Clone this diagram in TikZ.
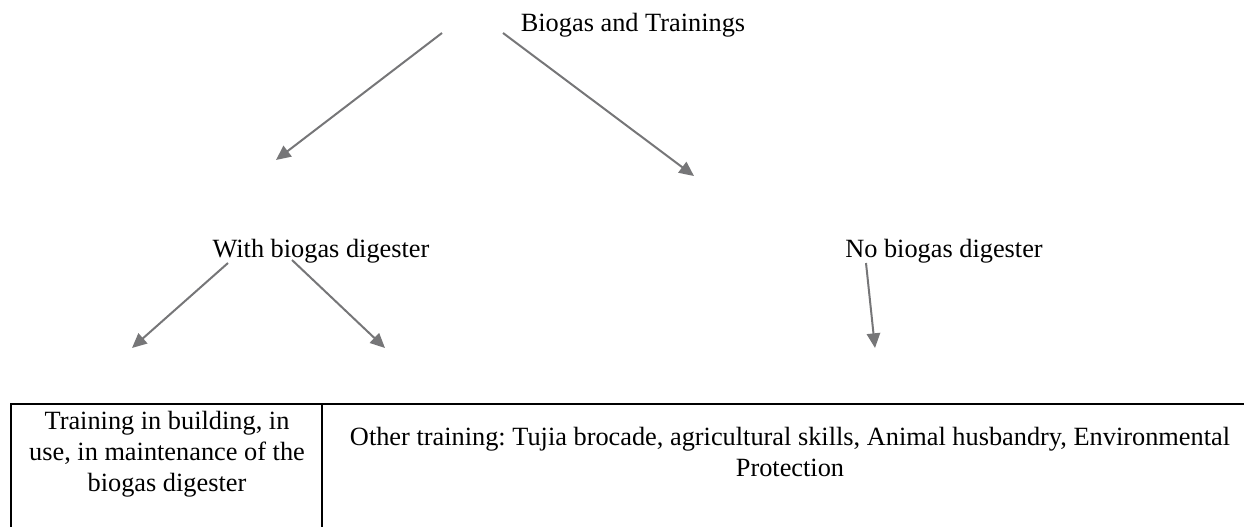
\documentclass[tikz,border=0pt]{standalone}
\usepackage{fontspec}
\setmainfont{Liberation Serif}
\usetikzlibrary{arrows.meta}
\definecolor{arrowgray}{RGB}{118,118,120}
\frenchspacing
\begin{document}
\begin{tikzpicture}[x=0.75pt,y=-0.75pt,
    txt/.style={font=\fontsize{19.75}{23.25}\selectfont, inner sep=0pt, anchor=base, align=center},
    arr/.style={draw=arrowgray, line width=1.5pt, -{Triangle[length=11pt,width=10pt]}},
    rule/.style={line width=1.1pt}]
  \useasboundingbox (0,0) rectangle (1244,527);
  \node [txt] (T) at (633,32) {Biogas and Trainings};
  \node [txt] (W) at (321,257) {With biogas digester};
  \node [txt] (N) at (944,257) {No biogas digester};
  \coordinate (T1) at (442,33);
  \coordinate (T2) at (503,33);
  \coordinate (W0) at (276,160);
  \coordinate (N0) at (694,176);
  \coordinate (W1) at (228,263);
  \coordinate (W2) at (292,260);
  \coordinate (N1) at (866,263);
  \coordinate (A) at (132,348);
  \coordinate (B) at (385,348);
  \coordinate (C) at (875,348);
  \draw [arr] (T1) -- (W0);
  \draw [arr] (T2) -- (N0);
  \draw [arr] (W1) -- (A);
  \draw [arr] (W2) -- (B);
  \draw [arr] (N1) -- (C);
  % table
  \coordinate (P) at (11,404);
  \coordinate (Q) at (322,404);
  \coordinate (R) at (1244,404);
  \draw [rule] (11,527) -- (P) -- (R);
  \draw [rule] (Q) -- (322,527);
  \node [txt] (L) at (167,491) {Training in building, in\\use, in maintenance of the\\biogas digester};
  \node [txt] (O) at (790,476) {Other training: Tujia brocade, agricultural skills, Animal husbandry, Environmental\\Protection};
\end{tikzpicture}
\end{document}
